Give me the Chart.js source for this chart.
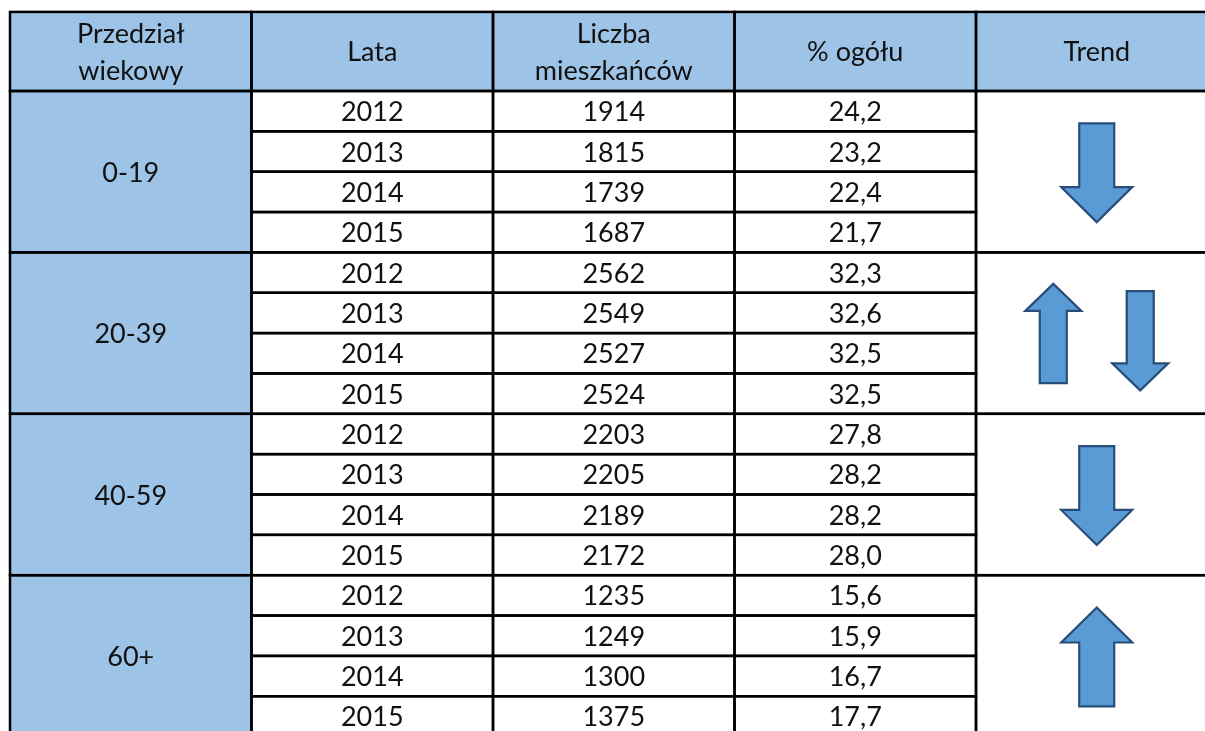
<!DOCTYPE html>
<html>
<head>
<meta charset="utf-8">
<script src="https://cdn.jsdelivr.net/npm/chart.js@4"></script>
<style>
  html, body { margin: 0; padding: 0; background: #fff; }
  #wrap { width: 1205px; height: 731px; }
</style>
</head>
<body>
<div id="wrap"><canvas id="myChart" width="1205" height="731"></canvas></div>
<script>
// table content
const headers = ['Przedział\nwiekowy', 'Lata', 'Liczba\nmieszkańców', '% ogółu', 'Trend'];
const ageGroups = ['0-19', '20-39', '40-59', '60+'];
const years = [2012, 2013, 2014, 2015];

const residents0_19 = [1914, 1815, 1739, 1687];
const residents20_39 = [2562, 2549, 2527, 2524];
const residents40_59 = [2203, 2205, 2189, 2172];
const residents60 = [1235, 1249, 1300, 1375];

const share0_19 = [24.2, 23.2, 22.4, 21.7];
const share20_39 = [32.3, 32.6, 32.5, 32.5];
const share40_59 = [27.8, 28.2, 28.2, 28.0];
const share60 = [15.6, 15.9, 16.7, 17.7];

const trends = [['down'], ['up', 'down'], ['down'], ['up']];

const residents = [residents0_19, residents20_39, residents40_59, residents60];
const shares = [share0_19, share20_39, share40_59, share60];

// colours / layout
const headFill = '#9DC3E6';
const arrowFill = '#5B9BD5';
const arrowLine = '#264E78';
const gridColor = '#000';
const font = '27px Lato';
const headerRows = 1.96; // header height in row units

function fmt(v){
	return v.toFixed(1).replace('.', ',');
}

// cell list in scale units: x = column index, y = row index (header above 0)
let cells = [];
for(let c=0; c<headers.length; c++){
	cells.push({x0:c, x1:c+1, y0:-headerRows, y1:0, text:headers[c], fill:headFill});
}
for(let g=0; g<ageGroups.length; g++){
	let r0 = g*years.length;
	cells.push({x0:0, x1:1, y0:r0, y1:r0+years.length, text:ageGroups[g], fill:headFill});
	for(let i=0; i<years.length; i++){
		cells.push({x0:1, x1:2, y0:r0+i, y1:r0+i+1, text:String(years[i])});
		cells.push({x0:2, x1:3, y0:r0+i, y1:r0+i+1, text:String(residents[g][i])});
		cells.push({x0:3, x1:4, y0:r0+i, y1:r0+i+1, text:fmt(shares[g][i])});
	}
	cells.push({x0:4, x1:5, y0:r0, y1:r0+years.length, text:'', trend:trends[g]});
}

function drawArrow(ctx, cx, yTop, yBot, shaft, head, headLen, dir){
	ctx.beginPath();
	if(dir == 'down'){
		let hb = yBot - headLen;
		ctx.moveTo(cx - shaft/2, yTop);
		ctx.lineTo(cx + shaft/2, yTop);
		ctx.lineTo(cx + shaft/2, hb);
		ctx.lineTo(cx + head/2, hb);
		ctx.lineTo(cx, yBot);
		ctx.lineTo(cx - head/2, hb);
		ctx.lineTo(cx - shaft/2, hb);
	}
	else{
		let hb = yTop + headLen;
		ctx.moveTo(cx, yTop);
		ctx.lineTo(cx + head/2, hb);
		ctx.lineTo(cx + shaft/2, hb);
		ctx.lineTo(cx + shaft/2, yBot);
		ctx.lineTo(cx - shaft/2, yBot);
		ctx.lineTo(cx - shaft/2, hb);
		ctx.lineTo(cx - head/2, hb);
	}
	ctx.closePath();
	ctx.fillStyle = arrowFill;
	ctx.fill();
	ctx.lineWidth = 2.2;
	ctx.strokeStyle = arrowLine;
	ctx.lineJoin = 'miter';
	ctx.stroke();
}

const tablePlugin = {
	id: 'tablePlugin',
	afterDraw(chart){
		const ctx = chart.ctx;
		const xs = chart.scales.x;
		const ys = chart.scales.y;
		const px = v => xs.getPixelForValue(v);
		const py = v => ys.getPixelForValue(v);
		const rowH = py(1) - py(0);
		ctx.save();

		// fills
		cells.forEach(c => {
			if(c.fill){
				ctx.fillStyle = c.fill;
				ctx.fillRect(px(c.x0), py(c.y0), px(c.x1)-px(c.x0), py(c.y1)-py(c.y0));
			}
		});

		// borders
		ctx.strokeStyle = gridColor;
		ctx.lineWidth = 2.5;
		cells.forEach(c => {
			ctx.strokeRect(px(c.x0), py(c.y0), px(c.x1)-px(c.x0), py(c.y1)-py(c.y0));
		});

		// text
		ctx.fillStyle = '#111';
		ctx.font = font;
		ctx.textAlign = 'center';
		ctx.textBaseline = 'alphabetic';
		cells.forEach(c => {
			if(!c.text) return;
			let lines = c.text.split('\n');
			let cx = (px(c.x0) + px(c.x1))/2;
			let cy = (py(c.y0) + py(c.y1))/2;
			let lh = 37;
			let first = cy - (lines.length-1)*lh/2 + 10;
			lines.forEach((t, i) => ctx.fillText(t, cx, first + i*lh));
		});

		// trend arrows
		cells.forEach(c => {
			if(!c.trend) return;
			let mid = (c.x0 + c.x1)/2;
			let yc = (c.y0 + c.y1)/2;
			if(c.trend.length == 1){
				let top = py(yc - 1.2), bot = py(yc + 1.25);
				drawArrow(ctx, px(mid), top, bot, 35, 71, 35, c.trend[0]);
			}
			else{
				c.trend.forEach((d, i) => {
					let off = i == 0 ? -0.18 : 0.18;
					let shift = i == 0 ? 0 : 0.18;
					let top = py(yc - 1.22 + shift), bot = py(yc + 1.24 + shift);
					drawArrow(ctx, px(mid + off), top, bot, 27, 56, 27, d);
				});
			}
		});
		ctx.restore();
	}
};

const ctxEl = document.getElementById('myChart');
new Chart(ctxEl, {
	type: 'scatter',
	data: { datasets: [] },
	options: {
		responsive: false,
		animation: false,
		devicePixelRatio: 1,
		layout: { padding: 0 },
		plugins: { legend: { display: false }, tooltip: { enabled: false } },
		scales: {
			x: { type: 'linear', display: false, min: -10/241.5, max: 1195/241.5 },
			y: { type: 'linear', display: false, reverse: true, min: -91/40.35, max: 640/40.35 }
		}
	},
	plugins: [tablePlugin]
});
</script>
</body>
</html>
